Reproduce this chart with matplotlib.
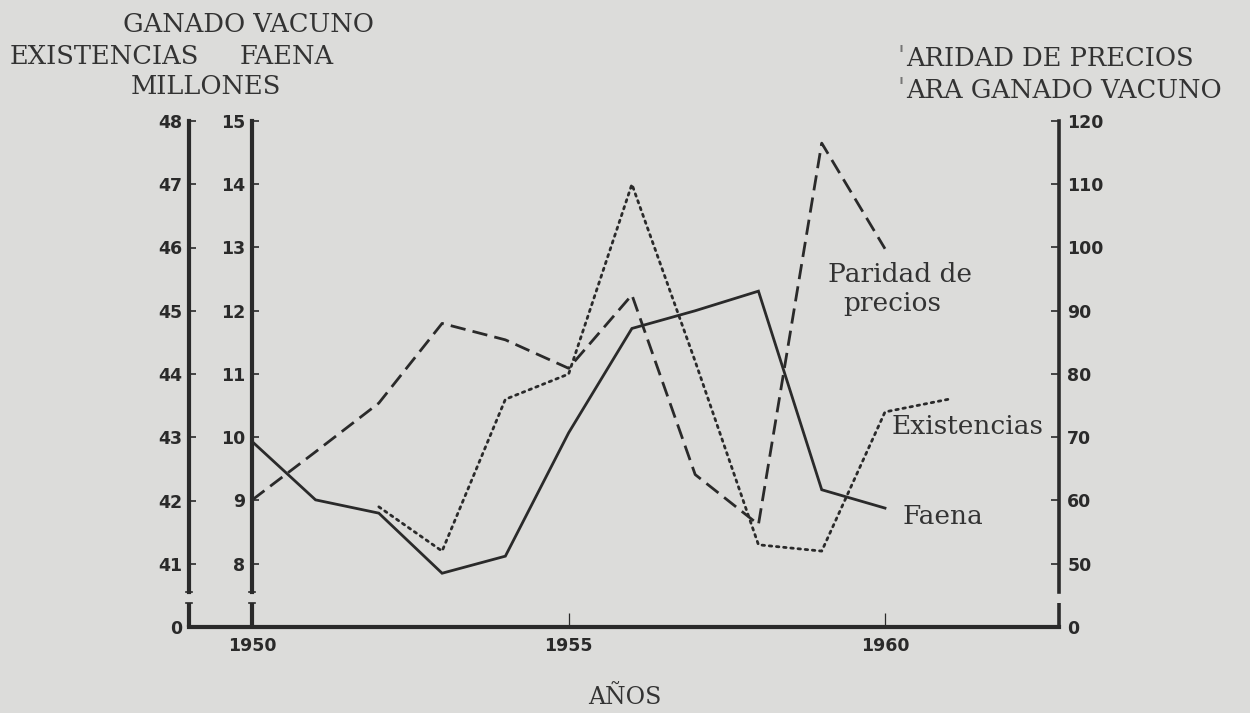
import matplotlib
matplotlib.use("Agg")
import matplotlib.pyplot as plt

# values
years = [1950, 1951, 1952, 1953, 1954, 1955, 1956, 1957, 1958, 1959, 1960, 1961]
faena = [9.93, 9.01, 8.80, 7.85, 8.12, 10.07, 11.72, 12.0, 12.31, 9.17, 8.88]          # 1950-1960
existencias = [41.9, 41.2, 43.6, 44.0, 47.0, 44.2, 41.3, 41.2, 43.4, 43.6]             # 1952-1961
paridad = [60.1, 67.7, 75.4, 88.0, 85.4, 80.9, 92.5, 64.1, 56.2, 116.5, 99.8]          # 1950-1960

faena_ticks = [8, 9, 10, 11, 12, 13, 14, 15]
exist_ticks = [40, 41, 42, 43, 44, 45, 46, 47, 48]
exist_labels = ["0", "41", "42", "43", "44", "45", "46", "47", "48"]
par_ticks = [40, 50, 60, 70, 80, 90, 100, 110, 120]
par_labels = ["0", "50", "60", "70", "80", "90", "100", "110", "120"]
year_ticks = [1950, 1955, 1960]

BG = "#dcdcda"
INK = "#2a2a2a"
W, H = 1250, 713

fig = plt.figure(figsize=(12.5, 7.13), dpi=100, facecolor=BG)
L, R, T, B = 189, 1059, 121, 627
ax = fig.add_axes([L / W, 1 - B / H, (R - L) / W, (B - T) / H])
ax.set_facecolor("none")
ax.set_xlim(1949.0, 1962.75)
ax.set_ylim(7, 15)

ax_e = ax.twinx()
ax_e.set_ylim(40, 48)
ax_p = ax.twinx()
ax_p.set_ylim(40, 120)

tick_font = dict(family="DejaVu Sans", weight="bold", size=12.5)
for a in (ax, ax_e, ax_p):
    for s in a.spines.values():
        s.set_visible(False)
    a.tick_params(colors=INK)

# Faena axis at 1950
ax.spines["left"].set_visible(True)
ax.spines["left"].set_position(("data", 1950))
ax.spines["left"].set_bounds(7.56, 15)
ax.spines["left"].set_linewidth(3)
ax.spines["left"].set_color(INK)
ax.set_yticks(faena_ticks)
ax.set_yticklabels([str(t) for t in faena_ticks], **tick_font)
ax.tick_params(axis="y", direction="in", length=5, width=1.2, pad=5)

# bottom axis
ax.spines["bottom"].set_visible(True)
ax.spines["bottom"].set_linewidth(3)
ax.spines["bottom"].set_color(INK)
ax.set_xticks(year_ticks)
ax.set_xticklabels([str(t) for t in year_ticks], **tick_font)
ax.tick_params(axis="x", direction="in", length=10, width=0.9, pad=7)

# Existencias axis at the left edge
ax_e.yaxis.tick_left()
ax_e.spines["left"].set_visible(True)
ax_e.spines["left"].set_bounds(40.56, 48)
ax_e.spines["left"].set_linewidth(3)
ax_e.spines["left"].set_color(INK)
ax_e.set_yticks(exist_ticks)
ax_e.set_yticklabels(exist_labels, **tick_font)
ax_e.tick_params(axis="y", direction="in", length=5, width=1.2, pad=5)

# Paridad axis on the right
ax_p.spines["right"].set_visible(True)
ax_p.spines["right"].set_bounds(45.6, 120)
ax_p.spines["right"].set_linewidth(2.6)
ax_p.spines["right"].set_color(INK)
ax_p.set_yticks(par_ticks)
ax_p.set_yticklabels(par_labels, **tick_font)
ax_p.tick_params(axis="y", direction="in", length=6, width=1.2, pad=6)

# short stubs under the axis breaks
stub = dict(color=INK, lw=3, clip_on=False, solid_capstyle="butt")
ax.plot([1949.0, 1949.0], [7.0, 7.38], **stub)
ax.plot([1950, 1950], [7.0, 7.38], **stub)
ax.plot([1962.75, 1962.75], [7.0, 7.38], color=INK, lw=2.6, clip_on=False, solid_capstyle="butt")
for xb in (1949.0, 1950):
    ax.plot([xb - 0.05, xb + 0.05], [7.38, 7.38], color=INK, lw=1.2, clip_on=False)
    ax.plot([xb - 0.05, xb + 0.05], [7.56, 7.56], color=INK, lw=1.2, clip_on=False)

# series
ax.plot(years[:11], faena, color=INK, lw=2.0, solid_joinstyle="miter")
ax_e.plot(years[2:], existencias, color=INK, lw=2.0, linestyle=(0, (0.9, 1.7)),
          dash_capstyle="round")
ax_p.plot(years[:11], paridad, color=INK, lw=2.0, linestyle=(0, (5.5, 2.6)))

serif = dict(family="DejaVu Serif", color="#333333")


def px_text(x, y, s, size, ha="left", **kw):
    fig.text(x / W, 1 - y / H, s, ha=ha, va="center", fontsize=size, **serif, **kw)


px_text(248, 25, "GANADO VACUNO", 18.5, ha="center")
px_text(10, 56, "EXISTENCIAS", 18.5)
px_text(240, 56, "FAENA", 18.5)
px_text(206, 86, "MILLONES", 18.5, ha="center")
px_text(898, 57, "'", 18.5, alpha=0.6)
px_text(906, 59, "ARIDAD DE PRECIOS", 18.5)
px_text(898, 89, "'", 18.5, alpha=0.6)
px_text(906, 91, "ARA GANADO VACUNO", 18.5)

px_text(828, 274, "Paridad de", 19)
px_text(843, 304, "precios", 19)
px_text(892, 426, "Existencias", 19)
px_text(903, 517, "Faena", 19)
px_text(625, 698, "AÑOS", 17, ha="center")

fig.savefig("out.png", dpi=100, facecolor=BG)
